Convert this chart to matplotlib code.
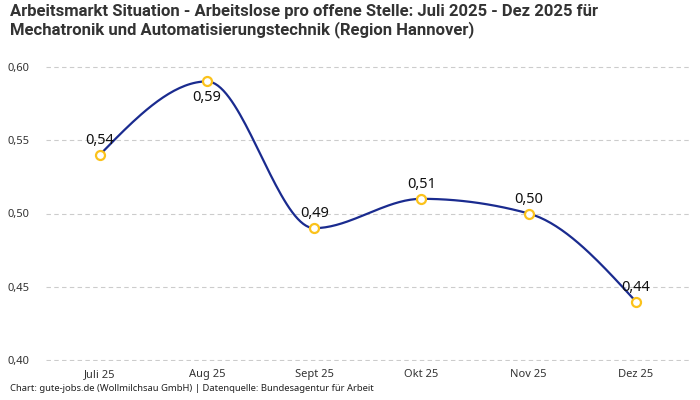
import numpy as np
import matplotlib.pyplot as plt

# Daten
monate = ["Juli 25", "Aug 25", "Sept 25", "Okt 25", "Nov 25", "Dez 25"]
werte = [0.54, 0.59, 0.49, 0.51, 0.50, 0.44]
label_unten = [False, True, False, False, False, False]

plt.rcParams['font.family'] = ['Noto Sans', 'DejaVu Sans']


def monotone_x(x, y, n=40):
    # monotone kubische Interpolation (wie d3.curveMonotoneX)
    x = np.asarray(x, float)
    y = np.asarray(y, float)
    h = np.diff(x)
    s = np.diff(y) / h
    t = np.zeros(len(x))
    for i in range(1, len(x) - 1):
        p = (s[i - 1] * h[i] + s[i] * h[i - 1]) / (h[i - 1] + h[i])
        t[i] = (np.sign(s[i - 1]) + np.sign(s[i])) * min(abs(s[i - 1]), abs(s[i]), 0.5 * abs(p))
    t[0] = (3 * s[0] - t[1]) / 2
    t[-1] = (3 * s[-1] - t[-2]) / 2
    xs, ys = [], []
    for i in range(len(x) - 1):
        dx = h[i] / 3
        p0 = np.array([x[i], y[i]])
        p1 = np.array([x[i] + dx, y[i] + dx * t[i]])
        p2 = np.array([x[i + 1] - dx, y[i + 1] - dx * t[i + 1]])
        p3 = np.array([x[i + 1], y[i + 1]])
        u = np.linspace(0, 1, n)[:, None]
        b = (1 - u) ** 3 * p0 + 3 * (1 - u) ** 2 * u * p1 + 3 * (1 - u) * u ** 2 * p2 + u ** 3 * p3
        xs.extend(b[:, 0])
        ys.extend(b[:, 1])
    return np.array(xs), np.array(ys)


fig = plt.figure(figsize=(7, 4), dpi=100)
ax = fig.add_axes([0.066, 0.0975, 0.919, 0.7375])

xpos = np.arange(len(monate))
kx, ky = monotone_x(xpos, werte)
ax.plot(kx, ky, color='#1a2b8f', lw=1.6, zorder=2)
ax.scatter(xpos, werte, s=42, facecolor='white', edgecolor='#fbc21b', linewidth=1.6, zorder=3)

for xi, v, unten in zip(xpos, werte, label_unten):
    txt = f"{v:.2f}".replace('.', ',')
    if unten:
        ax.annotate(txt, (xi, v), xytext=(0, -6), textcoords='offset points',
                    ha='center', va='top', fontsize=10.5, color='#111111')
    else:
        ax.annotate(txt, (xi, v), xytext=(0, 5), textcoords='offset points',
                    ha='center', va='bottom', fontsize=10.5, color='#111111')

ax.set_xlim(-0.5, len(monate) - 0.5)
ax.set_ylim(0.3995, 0.6005)
ax.set_yticks([0.40, 0.45, 0.50, 0.55, 0.60])
ax.set_yticklabels(["0,40", "0,45", "0,50", "0,55", "0,60"])
ax.set_xticks(xpos)
ax.set_xticklabels(monate)
ax.tick_params(length=0, labelsize=8, colors='#333333')
ax.tick_params(axis='x', pad=6)
ax.tick_params(axis='y', pad=12)
for sp in ax.spines.values():
    sp.set_visible(False)
ax.grid(axis='y', linestyle=(0, (4, 3)), color='#cccccc', lw=0.8)
ax.set_axisbelow(True)

fig.text(0.014, 0.99, "Arbeitsmarkt Situation - Arbeitslose pro offene Stelle: Juli 2025 - Dez 2025 für\n"
         "Mechatronik und Automatisierungstechnik (Region Hannover)",
         ha='left', va='top', fontsize=12, fontweight='bold', color='#333333', linespacing=1.15,
         family=['Roboto', 'DejaVu Sans'])
fig.text(0.014, 0.017, "Chart: gute-jobs.de (Wollmilchsau GmbH) | Datenquelle: Bundesagentur für Arbeit",
         ha='left', va='bottom', fontsize=6.8, color='#222222')

fig.savefig('out.png', dpi=100)
